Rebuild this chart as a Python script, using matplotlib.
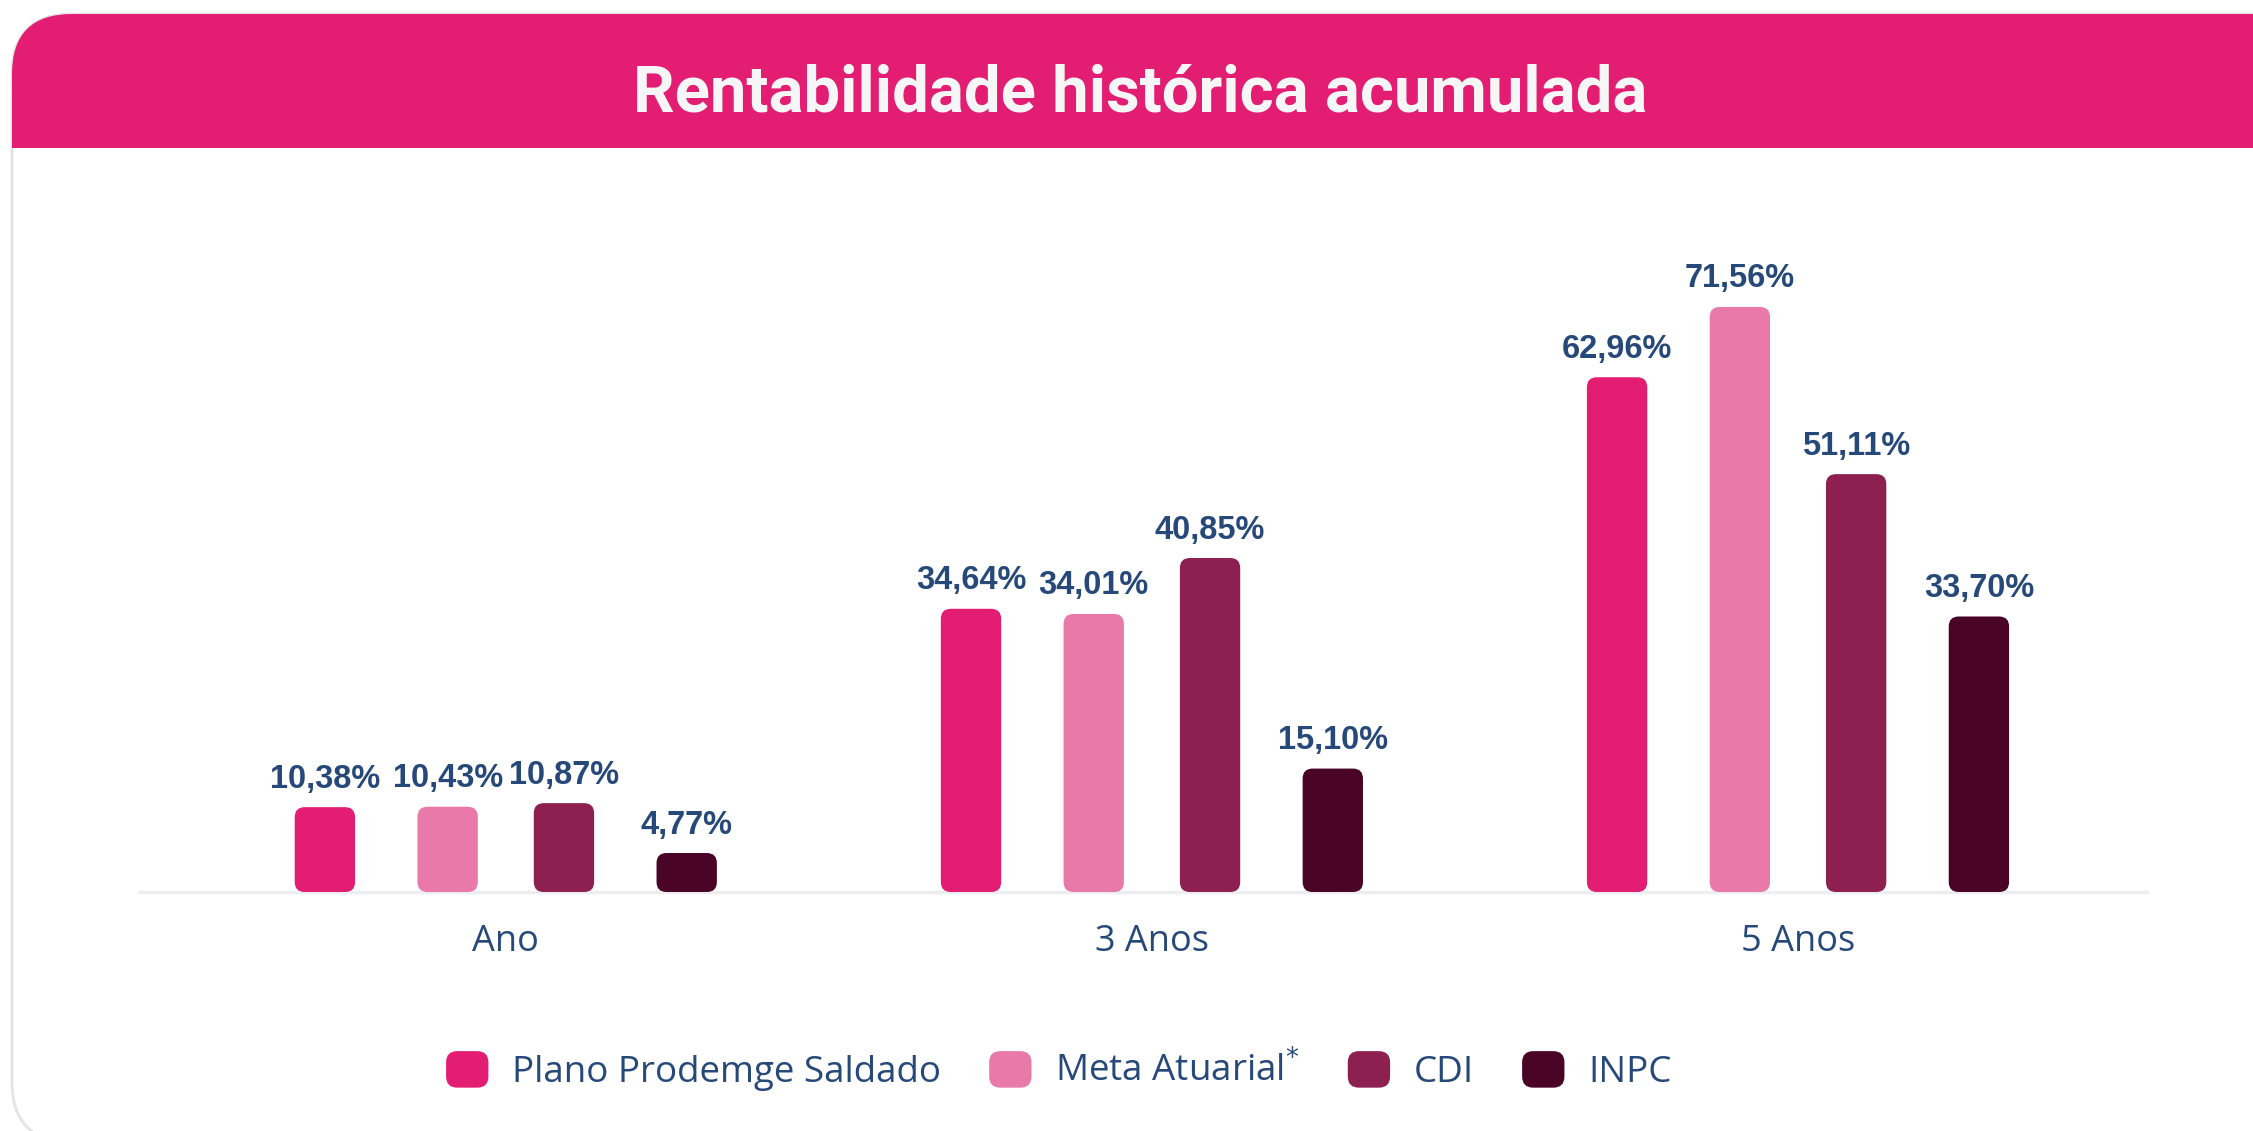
import matplotlib
matplotlib.use("Agg")
import matplotlib.pyplot as plt
from matplotlib.patches import FancyBboxPatch, Rectangle, Patch
from matplotlib.legend_handler import HandlerPatch
import numpy as np

# data
categories = ["Ano", "3 Anos", "5 Anos"]
series_names = ["Plano Prodemge Saldado", "Meta Atuarial$^{*}$", "CDI", "INPC"]
plano = [10.38, 34.64, 62.96]
meta = [10.43, 34.01, 71.56]
cdi = [10.87, 40.85, 51.11]
inpc = [4.77, 15.10, 33.70]
series_values = [plano, meta, cdi, inpc]

colors = ["#E31E72", "#E879A8", "#8E1F51", "#4A0426"]
pink = "#E31E72"
navy = "#27497A"

W, H = 2253, 1131
fig = plt.figure(figsize=(W / 100, H / 100), dpi=100)

# background card + header band, drawn in pixel units
bg = fig.add_axes([0, 0, 1, 1])
bg.set_xlim(0, W)
bg.set_ylim(H, 0)
bg.axis("off")
bg.add_patch(FancyBboxPatch((12, 14), 2400, 1128, boxstyle="round,pad=0,rounding_size=60",
                            fc="white", ec="#e4e4e4", lw=2))
bg.add_patch(FancyBboxPatch((12, 14), 2400, 134, boxstyle="round,pad=0,rounding_size=60",
                            fc=pink, ec="none"))
bg.add_patch(Rectangle((12, 90), 2400, 58, fc=pink, ec="none"))
bg.text(1140, 111, "Rentabilidade histórica acumulada", ha="center", va="baseline",
        fontsize=47, fontweight="bold", color="#F6F6F6", family="Roboto")

# main chart
ax = fig.add_axes([0.0619, 0.2113, 0.891, 0.647])
groups = np.arange(len(categories))
offsets = [-0.28, -0.09, 0.09, 0.28]
bar_w = 0.0934
ax.set_xlim(-0.567, 2.54)
ax.set_ylim(0, 89.5)

for i, vals in enumerate(series_values):
    bars = ax.bar(groups + offsets[i], vals, width=bar_w, color=colors[i])
    for rect, v in zip(bars, vals):
        ax.add_patch(FancyBboxPatch((rect.get_x(), rect.get_y()), rect.get_width(), rect.get_height(),
                                    boxstyle="round,pad=0,rounding_size=0.0155", mutation_aspect=79,
                                    fc=colors[i], ec="none", zorder=3))
        rect.remove()
        ax.annotate(f"{v:.2f}%".replace(".", ","), (rect.get_x() + rect.get_width() / 2, v),
                    xytext=(0, 9), textcoords="offset points", ha="center", va="bottom",
                    fontsize=23.5, fontweight="bold", color=navy, family="Liberation Sans")

for s in ["top", "left", "right"]:
    ax.spines[s].set_visible(False)
ax.spines["bottom"].set_color("#EEEEF2")
ax.spines["bottom"].set_linewidth(2.5)
ax.set_yticks([])
ax.set_xticks(groups)
ax.set_xticklabels(categories, family="Open Sans", fontsize=26, color=navy)
ax.tick_params(axis="x", length=0, pad=23)
ax.set_facecolor("none")


def rounded_handle(legend, orig_handle, xdescent, ydescent, width, height, fontsize):
    return FancyBboxPatch((-xdescent, -ydescent), width, height,
                          boxstyle="round,pad=0,rounding_size=8")


handles = [Patch(facecolor=c, edgecolor="none") for c in colors]
fig.legend(handles, series_names, loc="center", bbox_to_anchor=(0.47, 1 - 1071 / H), ncol=4,
           frameon=False, handlelength=1.15, handleheight=1.15, handletextpad=0.65, columnspacing=1.3,
           prop={"family": "Open Sans", "size": 26.5}, labelcolor=navy,
           handler_map={Patch: HandlerPatch(patch_func=rounded_handle)})

fig.savefig("out.png", dpi=100)
